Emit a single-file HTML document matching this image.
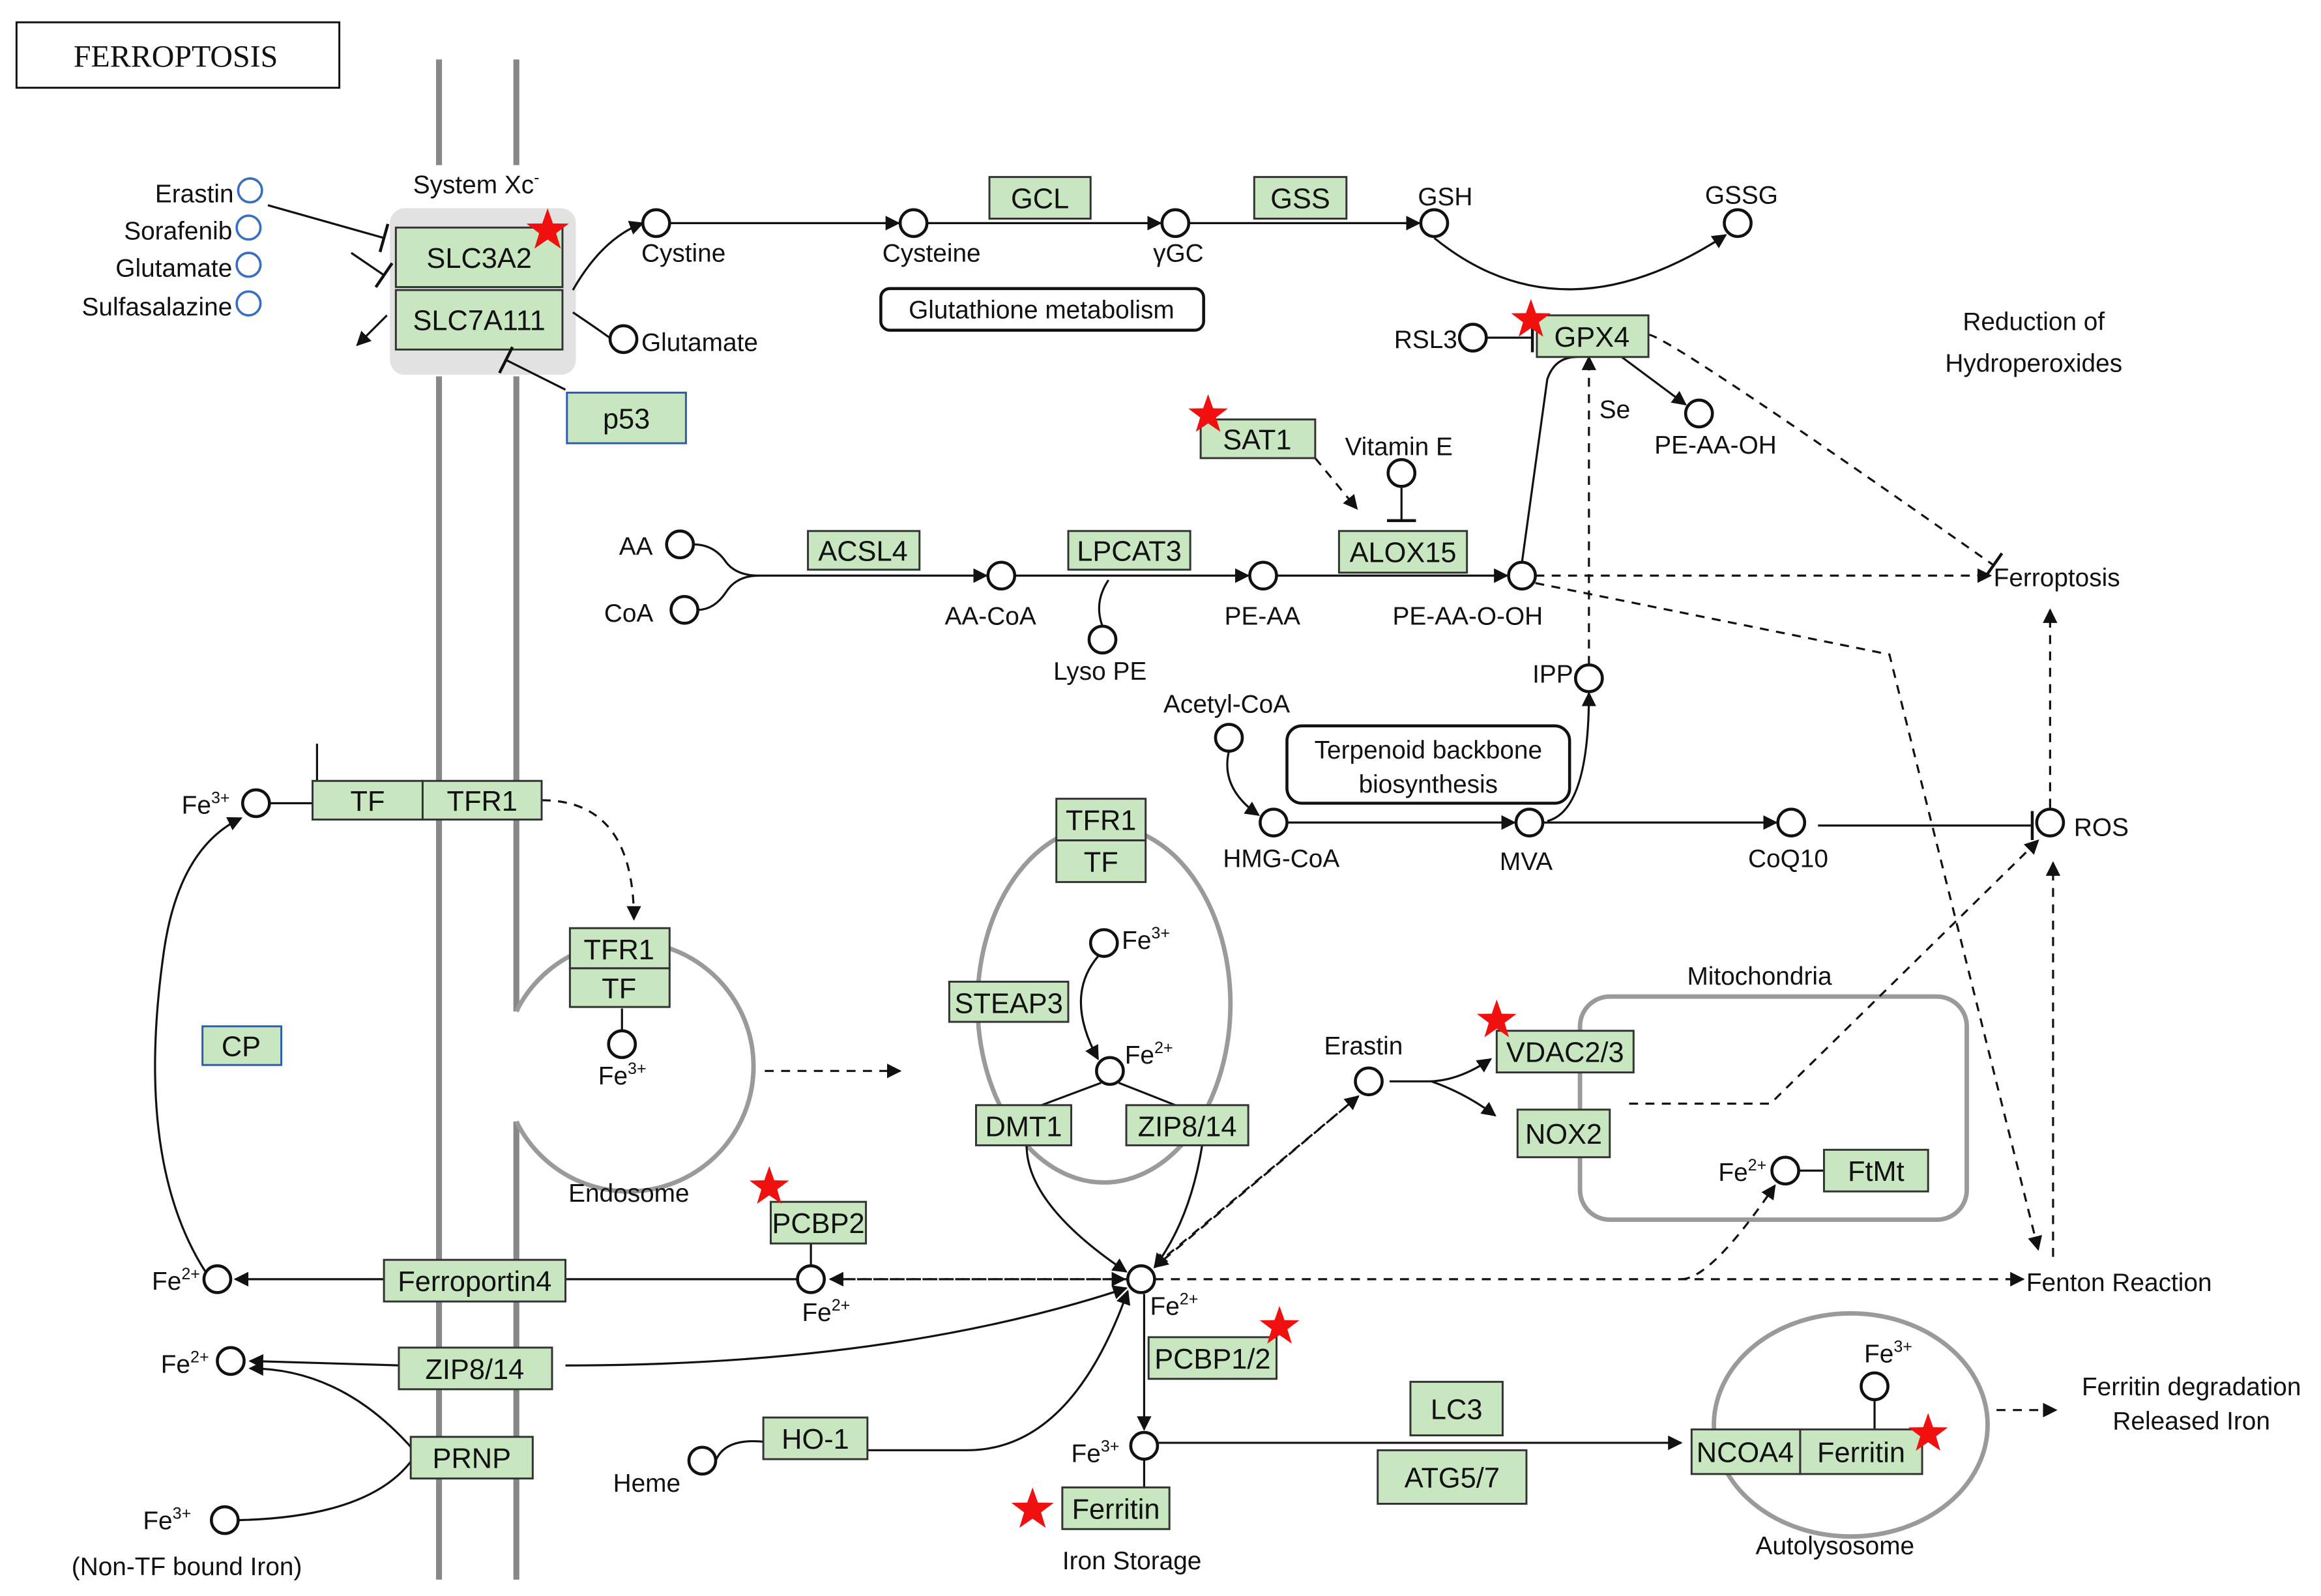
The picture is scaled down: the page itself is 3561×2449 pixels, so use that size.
<!DOCTYPE html>
<html><head><meta charset="utf-8"><style>
html,body{margin:0;padding:0;background:#fff}
svg{display:block}
text{font-family:"Liberation Sans",sans-serif;font-size:17px;fill:#111}
.g{fill:#c8e6c0;stroke:#333;stroke-width:1.3}
.b{fill:#c8e6c0;stroke:#2a5db0;stroke-width:1.3}
.c{fill:#fff;stroke:#111;stroke-width:2}
.cb{fill:#fff;stroke:#3a6fc0;stroke-width:1.6}
.l{stroke:#111;stroke-width:1.4;fill:none}
.d{stroke:#111;stroke-width:1.4;fill:none;stroke-dasharray:6,5}
.m{stroke:#9a9a9a;stroke-width:3;fill:none}
.bt{font-size:19px;text-anchor:middle}
</style></head><body>
<svg width="3561" height="2449" viewBox="0 0 1560 1073" xmlns="http://www.w3.org/2000/svg">
<defs>
<marker id="a" viewBox="0 0 10 10" refX="9" refY="5" markerWidth="7" markerHeight="7" orient="auto"><path d="M0,0L10,5L0,10z" fill="#111"/></marker>
<marker id="t" viewBox="0 0 4 20" refX="2" refY="10" markerWidth="4" markerHeight="14" orient="auto"><path d="M2,0V20" stroke="#111" stroke-width="2"/></marker>
<symbol id="st" viewBox="-10 -10 20 20"><path d="M0,-10L2.4,-3.2L9.5,-3.1L3.8,1.2L5.9,8.1L0,4L-5.9,8.1L-3.8,1.2L-9.5,-3.1L-2.4,-3.2z" fill="#f01010"/></symbol>
</defs>
<rect x="11" y="15" width="217" height="44" fill="#fff" stroke="#111" stroke-width="1.3"/>
<text x="118" y="45" text-anchor="middle" style="font-family:'Liberation Serif',serif;font-size:21px">FERROPTOSIS</text>
<path d="M295,40V111 M295,253V1062 M347,40V111 M347,253V680 M347,754V1062" stroke="#888" stroke-width="4" fill="none"/>
<rect x="262" y="140" width="125" height="112" rx="10" fill="#e2e2e2"/>
<text x="320" y="130" text-anchor="middle">System Xc<tspan font-size="11" dy="-7">-</tspan></text>
<rect class="g" x="266" y="153" width="112" height="40"/><text class="bt" x="322" y="180">SLC3A2</text>
<rect class="g" x="266" y="195" width="112" height="40"/><text class="bt" x="322" y="222">SLC7A111</text>
<!-- endosome, ellipses, mito -->
<path class="m" d="M347,680 A84,84 0 1 1 347,754"/>
<ellipse class="m" cx="742" cy="675" rx="85" ry="120"/>
<rect class="m" x="1062" y="670" width="260" height="150" rx="20"/>
<ellipse class="m" cx="1244" cy="958" rx="92" ry="75"/>
<!-- connectors -->
<g>
<path class="l" d="M180,138 L258,160" marker-end="url(#t)"/>
<path class="l" d="M236,170 L258,185" marker-end="url(#t)"/>
<path class="l" d="M260,212 L240,232" marker-end="url(#a)"/>
<path class="l" d="M385,195 Q405,160 432,150" marker-end="url(#a)"/>
<path class="l" d="M385,210 Q400,220 411,228"/>
<path class="l" d="M450,150 L604,150" marker-end="url(#a)"/>
<path class="l" d="M623,150 L780,150" marker-end="url(#a)"/>
<path class="l" d="M799,150 L954,150" marker-end="url(#a)"/>
<path class="l" d="M964,160 Q1050,230 1160,158" marker-end="url(#a)"/>
<path class="l" d="M380,262 L340,242" marker-end="url(#t)"/>
<path class="l" d="M999,227 L1030,227" marker-end="url(#t)"/>
<path class="l" d="M1090,240 L1133,272" marker-end="url(#a)"/>
<path class="d" d="M1108,225 Q1120,225 1340,380" marker-end="url(#t)"/>
<path class="d" d="M884,308 L912,342" marker-end="url(#a)"/>
<path class="l" d="M942,328 L942,350" marker-end="url(#t)"/>
<path class="l" d="M466,366 Q480,366 488,378 Q495,387 510,387 M469,410 Q480,410 488,398 Q495,387 510,387 L663,387" marker-end="url(#a)"/>
<path class="l" d="M682,387 L839,387" marker-end="url(#a)"/>
<path class="l" d="M745,390 Q735,405 741,421"/>
<path class="l" d="M858,387 L1013,387" marker-end="url(#a)"/>
<path class="l" d="M1023,378 L1040,255 Q1045,240 1060,240"/>
<path class="d" d="M1032,387 L1338,387" marker-end="url(#a)"/>
<path class="d" d="M1068,447 L1068,240" marker-end="url(#a)"/>
<path class="d" d="M1032,392 L1270,440 L1370,840" marker-end="url(#a)"/>
<path class="l" d="M826,505 Q820,530 846,548" marker-end="url(#a)"/>
<path class="l" d="M865,553 L1018,553" marker-end="url(#a)"/>
<path class="l" d="M1037,553 L1194,553" marker-end="url(#a)"/>
<path class="l" d="M1040,552 Q1068,545 1068,466" marker-end="url(#a)"/>
<path class="l" d="M1222,555 L1366,555" marker-end="url(#t)"/>
<path class="d" d="M1378,543 L1378,410" marker-end="url(#a)"/>
<path class="d" d="M1380,845 L1380,580" marker-end="url(#a)"/>
<path class="l" d="M181,540 L210,540 M213,500 L213,525"/>
<path class="d" d="M364,538 Q426,538 426,618" marker-end="url(#a)"/>
<path class="l" d="M418,678 L418,693"/>
<path class="d" d="M514,720 L605,720" marker-end="url(#a)"/>
<path class="l" d="M738,643 Q715,670 738,712" marker-end="url(#a)"/>
<path class="l" d="M740,728 L700,743 M752,728 L790,743"/>
<path class="l" d="M690,770 Q690,810 757,855" marker-end="url(#a)"/>
<path class="l" d="M808,770 Q800,820 776,852" marker-end="url(#a)"/>
<path class="l" d="M934,727 L960,727 Q980,727 1002,712" marker-end="url(#a)"/>
<path class="l" d="M962,727 Q985,735 1005,750" marker-end="url(#a)"/>
<path class="d" d="M913,737 L776,852" marker-end="url(#a)"/>
<path class="d" d="M776,851 L913,737" marker-end="url(#a)"/>
<path class="d" d="M1095,742 L1190,742 L1370,565" marker-end="url(#a)"/>
<path class="l" d="M1209,787 L1226,787"/>
<path class="d" d="M776,860 L1360,860" marker-end="url(#a)"/>
<path class="d" d="M1130,860 Q1150,860 1193,797" marker-end="url(#a)"/>
<path class="d" d="M758,860 L558,860" marker-end="url(#a)"/>
<path class="d" d="M558,860 L756,860" marker-end="url(#a)"/>
<path class="l" d="M545,836 L545,851"/>
<path class="l" d="M536,860 L158,860" marker-end="url(#a)"/>
<path class="l" d="M138,855 Q90,780 110,640 Q120,570 162,550" marker-end="url(#a)"/>
<path class="l" d="M380,918 Q600,918 757,866" marker-end="url(#a)"/>
<path class="l" d="M270,918 L168,915" marker-end="url(#a)"/>
<path class="l" d="M160,1022 Q250,1020 278,980 M278,975 Q230,920 168,920" marker-end="url(#a)"/>
<path class="l" d="M481,982 Q490,960 540,975 L650,975 Q720,975 758,868" marker-end="url(#a)"/>
<path class="l" d="M769,870 L769,961" marker-end="url(#a)"/>
<path class="l" d="M769,981 L769,1000"/>
<path class="l" d="M778,970 L1130,970" marker-end="url(#a)"/>
<path class="l" d="M1260,941 L1260,961"/>
<path class="d" d="M1342,948 L1382,948" marker-end="url(#a)"/>
</g>
<!-- green boxes -->
<g>
<rect class="g" x="665" y="119" width="68" height="28"/><text class="bt" x="699" y="140">GCL</text>
<rect class="g" x="843" y="119" width="62" height="28"/><text class="bt" x="874" y="140">GSS</text>
<rect class="g" x="1033" y="212" width="75" height="28"/><text class="bt" x="1070" y="233">GPX4</text>
<rect class="g" x="807" y="282" width="77" height="26"/><text class="bt" x="845" y="302">SAT1</text>
<rect class="g" x="900" y="357" width="86" height="28"/><text class="bt" x="943" y="378">ALOX15</text>
<rect class="g" x="543" y="357" width="75" height="26"/><text class="bt" x="580" y="377">ACSL4</text>
<rect class="g" x="718" y="357" width="82" height="26"/><text class="bt" x="759" y="377">LPCAT3</text>
<rect class="g" x="210" y="525" width="74" height="26"/><text class="bt" x="247" y="545">TF</text>
<rect class="g" x="284" y="525" width="80" height="26"/><text class="bt" x="324" y="545">TFR1</text>
<rect class="g" x="710" y="537" width="60" height="28"/><text class="bt" x="740" y="558">TFR1</text>
<rect class="g" x="710" y="565" width="60" height="28"/><text class="bt" x="740" y="586">TF</text>
<rect class="g" x="383" y="624" width="67" height="27"/><text class="bt" x="416" y="645">TFR1</text>
<rect class="g" x="383" y="651" width="67" height="26"/><text class="bt" x="416" y="671">TF</text>
<rect class="g" x="638" y="660" width="80" height="27"/><text class="bt" x="678" y="681">STEAP3</text>
<rect class="g" x="656" y="743" width="64" height="27"/><text class="bt" x="688" y="764">DMT1</text>
<rect class="g" x="757" y="743" width="82" height="27"/><text class="bt" x="798" y="764">ZIP8/14</text>
<rect class="g" x="1006" y="693" width="92" height="28"/><text class="bt" x="1052" y="714">VDAC2/3</text>
<rect class="g" x="1020" y="746" width="62" height="32"/><text class="bt" x="1051" y="769">NOX2</text>
<rect class="g" x="1226" y="773" width="70" height="28"/><text class="bt" x="1261" y="794">FtMt</text>
<rect class="g" x="518" y="808" width="64" height="28"/><text class="bt" x="550" y="829">PCBP2</text>
<rect class="g" x="258" y="847" width="122" height="28"/><text class="bt" x="319" y="868">Ferroportin4</text>
<rect class="g" x="268" y="906" width="103" height="28"/><text class="bt" x="319" y="927">ZIP8/14</text>
<rect class="g" x="276" y="966" width="82" height="28"/><text class="bt" x="317" y="987">PRNP</text>
<rect class="g" x="513" y="953" width="70" height="28"/><text class="bt" x="548" y="974">HO-1</text>
<rect class="g" x="772" y="899" width="86" height="28"/><text class="bt" x="815" y="920">PCBP1/2</text>
<rect class="g" x="714" y="1000" width="72" height="28"/><text class="bt" x="750" y="1021">Ferritin</text>
<rect class="g" x="948" y="929" width="62" height="36"/><text class="bt" x="979" y="954">LC3</text>
<rect class="g" x="926" y="975" width="100" height="36"/><text class="bt" x="976" y="1000">ATG5/7</text>
<rect class="g" x="1137" y="961" width="73" height="30"/><text class="bt" x="1173" y="983">NCOA4</text>
<rect class="g" x="1210" y="961" width="82" height="30"/><text class="bt" x="1251" y="983">Ferritin</text>
<rect class="b" x="136" y="690" width="53" height="26"/><text class="bt" x="162" y="710">CP</text>
<rect class="b" x="381" y="264" width="80" height="34"/><text class="bt" x="421" y="288">p53</text>
</g>
<rect x="592" y="194" width="217" height="28" rx="6" fill="#fff" stroke="#111" stroke-width="2"/>
<text x="700" y="214" text-anchor="middle">Glutathione metabolism</text>
<rect x="865" y="488" width="190" height="52" rx="10" fill="#fff" stroke="#111" stroke-width="2"/>
<text x="960" y="510" text-anchor="middle">Terpenoid backbone</text><text x="960" y="533" text-anchor="middle">biosynthesis</text>
<!-- circles -->
<g>
<circle class="cb" cx="168" cy="128" r="8"/><circle class="cb" cx="167" cy="153" r="8"/><circle class="cb" cx="167" cy="178" r="8"/><circle class="cb" cx="167" cy="204" r="8"/>
<circle class="c" cx="441" cy="150" r="9"/><circle class="c" cx="614" cy="150" r="9"/><circle class="c" cx="790" cy="150" r="9"/><circle class="c" cx="964" cy="150" r="9"/><circle class="c" cx="1168" cy="150" r="9"/>
<circle class="c" cx="419" cy="228" r="9"/><circle class="c" cx="990" cy="227" r="9"/><circle class="c" cx="1142" cy="278" r="9"/><circle class="c" cx="942" cy="318" r="9"/>
<circle class="c" cx="457" cy="366" r="9"/><circle class="c" cx="460" cy="410" r="9"/><circle class="c" cx="673" cy="387" r="9"/><circle class="c" cx="741" cy="430" r="9"/><circle class="c" cx="849" cy="387" r="9"/><circle class="c" cx="1023" cy="387" r="9"/>
<circle class="c" cx="1068" cy="456" r="9"/><circle class="c" cx="826" cy="496" r="9"/><circle class="c" cx="856" cy="553" r="9"/><circle class="c" cx="1028" cy="553" r="9"/><circle class="c" cx="1204" cy="553" r="9"/><circle class="c" cx="1378" cy="553" r="9"/>
<circle class="c" cx="172" cy="540" r="9"/><circle class="c" cx="418" cy="702" r="9"/><circle class="c" cx="742" cy="634" r="9"/><circle class="c" cx="746" cy="720" r="9"/><circle class="c" cx="920" cy="727" r="9"/><circle class="c" cx="1200" cy="787" r="9"/>
<circle class="c" cx="146" cy="860" r="9"/><circle class="c" cx="545" cy="860" r="9"/><circle class="c" cx="767" cy="860" r="9"/><circle class="c" cx="155" cy="915" r="9"/><circle class="c" cx="151" cy="1022" r="9"/><circle class="c" cx="472" cy="982" r="9"/><circle class="c" cx="769" cy="972" r="9"/><circle class="c" cx="1260" cy="932" r="9"/>
</g>
<!-- labels -->
<g>
<text x="157" y="136" text-anchor="end">Erastin</text><text x="156" y="161" text-anchor="end">Sorafenib</text><text x="156" y="186" text-anchor="end">Glutamate</text><text x="156" y="212" text-anchor="end">Sulfasalazine</text>
<text x="431" y="176">Cystine</text><text x="593" y="176">Cysteine</text><text x="775" y="176">γGC</text><text x="953" y="138">GSH</text><text x="1146" y="137">GSSG</text>
<text x="431" y="236">Glutamate</text><text x="937" y="234">RSL3</text><text x="1075" y="281">Se</text><text x="1112" y="305">PE-AA-OH</text>
<text x="1367" y="222" text-anchor="middle">Reduction of</text><text x="1367" y="250" text-anchor="middle">Hydroperoxides</text>
<text x="904" y="306">Vitamin E</text><text x="416" y="373">AA</text><text x="406" y="418">CoA</text>
<text x="635" y="420">AA-CoA</text><text x="708" y="457">Lyso PE</text><text x="823" y="420">PE-AA</text><text x="936" y="420">PE-AA-O-OH</text>
<text x="1340" y="394">Ferroptosis</text><text x="1030" y="459">IPP</text><text x="782" y="479">Acetyl-CoA</text>
<text x="822" y="583">HMG-CoA</text><text x="1008" y="585">MVA</text><text x="1175" y="583">CoQ10</text><text x="1394" y="562">ROS</text>
<text x="122" y="547">Fe<tspan font-size="11" dy="-7">3+</tspan></text>
<text x="402" y="729">Fe<tspan font-size="11" dy="-7">3+</tspan></text>
<text x="754" y="638">Fe<tspan font-size="11" dy="-7">3+</tspan></text>
<text x="756" y="715">Fe<tspan font-size="11" dy="-7">2+</tspan></text>
<text x="382" y="808">Endosome</text><text x="1134" y="662">Mitochondria</text><text x="890" y="709">Erastin</text>
<text x="1155" y="794">Fe<tspan font-size="11" dy="-7">2+</tspan></text>
<text x="102" y="867">Fe<tspan font-size="11" dy="-7">2+</tspan></text>
<text x="539" y="888">Fe<tspan font-size="11" dy="-7">2+</tspan></text>
<text x="773" y="884">Fe<tspan font-size="11" dy="-7">2+</tspan></text>
<text x="1362" y="868">Fenton Reaction</text>
<text x="108" y="923">Fe<tspan font-size="11" dy="-7">2+</tspan></text>
<text x="96" y="1028">Fe<tspan font-size="11" dy="-7">3+</tspan></text>
<text x="48" y="1059">(Non-TF bound Iron)</text>
<text x="412" y="1003">Heme</text>
<text x="720" y="983">Fe<tspan font-size="11" dy="-7">3+</tspan></text>
<text x="714" y="1055">Iron Storage</text>
<text x="1253" y="916">Fe<tspan font-size="11" dy="-7">3+</tspan></text>
<text x="1180" y="1045">Autolysosome</text>
<text x="1473" y="938" text-anchor="middle">Ferritin degradation</text><text x="1473" y="961" text-anchor="middle">Released Iron</text>
</g>
<!-- stars -->
<use href="#st" x="353" y="140" width="30" height="30"/>
<use href="#st" x="1015" y="201" width="28" height="28"/>
<use href="#st" x="798" y="265" width="28" height="28"/>
<use href="#st" x="992" y="672" width="28" height="28"/>
<use href="#st" x="503" y="784" width="28" height="28"/>
<use href="#st" x="846" y="878" width="28" height="28"/>
<use href="#st" x="679" y="1000" width="30" height="30"/>
<use href="#st" x="1282" y="950" width="28" height="28"/>
</svg>
</body></html>
